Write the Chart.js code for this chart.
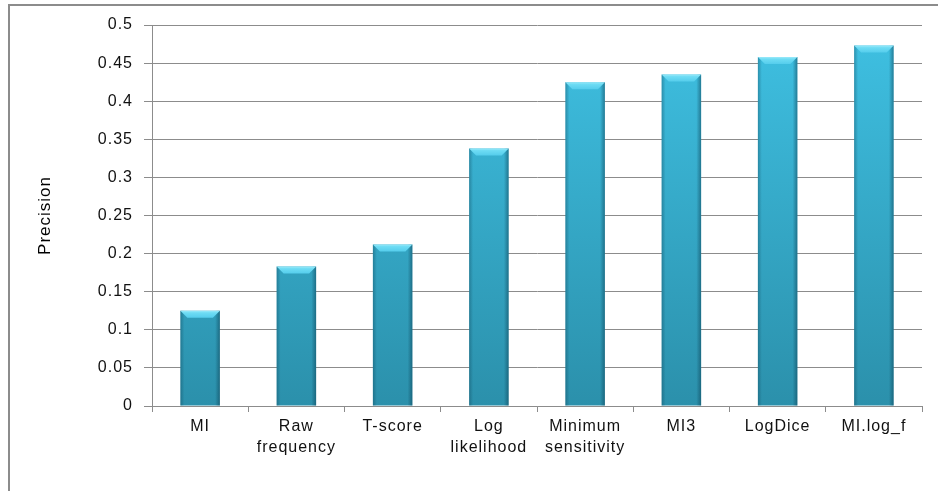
<!DOCTYPE html>
<html>
<head>
<meta charset="utf-8">
<script src="https://cdn.jsdelivr.net/npm/chart.js@4.4.1/dist/chart.umd.min.js"></script>
<style>
  html, body { margin: 0; padding: 0; background: #fff; overflow: hidden; }
  #wrap { position: relative; width: 938px; height: 491px; }
  #frame { position: absolute; left: 8px; top: 4px; width: 950px; height: 510px;
           border: 2px solid #8c8c8c; box-sizing: border-box; pointer-events: none; }
</style>
</head>
<body>
<div id="wrap">
  <canvas id="chart" width="938" height="491"></canvas>
  <div id="frame"></div>
</div>
<script>
/* measures compared, precision of each */
const categories = ['MI', ['Raw', 'frequency'], 'T-score', ['Log', 'likelihood'],
                    ['Minimum', 'sensitivity'], 'MI3', 'LogDice', 'MI.log_f'];
const precision = [0.125, 0.183, 0.212, 0.338, 0.425, 0.435, 0.458, 0.473];
const yTickLabels = ['0', '0.05', '0.1', '0.15', '0.2', '0.25', '0.3', '0.35', '0.4', '0.45', '0.5'];

const FONT = 'Liberation Sans, Arial, sans-serif';

/* old Excel-style wide text */
const spacing = {
  id: 'spacing',
  beforeUpdate(chart) { chart.ctx.letterSpacing = '1px'; },
  beforeDraw(chart) { chart.ctx.letterSpacing = '1px'; }
};

/* vertical fill gradient for the bars */
function barFill(ctx) {
  const area = ctx.chart.chartArea;
  if (!area) return '#36a9c9';
  const g = ctx.chart.ctx.createLinearGradient(0, area.top, 0, area.bottom);
  g.addColorStop(0, '#3fc1e3');
  g.addColorStop(1, '#2b90ab');
  return g;
}

/* side shading + top bevel on each bar, placed from the bar elements */
const bevel = {
  id: 'bevel',
  afterDatasetsDraw(chart) {
    const c = chart.ctx;
    chart.getDatasetMeta(0).data.forEach(bar => {
      const p = bar.getProps(['x', 'y', 'base', 'width'], true);
      const l = p.x - p.width / 2, r = p.x + p.width / 2;
      c.save();
      const h = c.createLinearGradient(l, 0, r, 0);
      h.addColorStop(0, 'rgba(10,60,80,0.35)');
      h.addColorStop(0.1, 'rgba(10,60,80,0)');
      h.addColorStop(0.88, 'rgba(10,60,80,0)');
      h.addColorStop(1, 'rgba(10,60,80,0.5)');
      c.fillStyle = h;
      c.fillRect(l, p.y, p.width, p.base - p.y);
      // top cap
      const d = 7;
      c.beginPath();
      c.moveTo(l, p.y);
      c.lineTo(r, p.y);
      c.lineTo(r - d, p.y + d);
      c.lineTo(l + d, p.y + d);
      c.closePath();
      const v = c.createLinearGradient(0, p.y, 0, p.y + d);
      v.addColorStop(0, '#9ceafa');
      v.addColorStop(0.3, '#6edcf4');
      v.addColorStop(1, '#55cdec');
      c.fillStyle = v;
      c.fill();
      c.restore();
    });
  }
};

new Chart(document.getElementById('chart'), {
  type: 'bar',
  data: {
    labels: categories,
    datasets: [{
      label: 'Precision',
      data: precision,
      backgroundColor: barFill,
      borderWidth: 0,
      categoryPercentage: 1,
      barPercentage: 0.41
    }]
  },
  options: {
    responsive: false,
    animation: false,
    devicePixelRatio: 1,
    layout: { padding: { top: 25, right: 16, bottom: 0, left: 0 } },
    plugins: { legend: { display: false }, tooltip: { enabled: false } },
    scales: {
      x: {
        afterFit(scale) { scale.height = 85; },
        grid: { display: true, drawOnChartArea: false, drawTicks: true, tickLength: 6, color: '#8c8c8c', offset: true },
        border: { display: true, color: '#8c8c8c' },
        ticks: { color: '#111', font: { family: FONT, size: 16, lineHeight: 1.3 }, padding: 4, maxRotation: 0, autoSkip: false }
      },
      y: {
        min: 0,
        max: 0.5,
        afterFit(scale) { scale.width = 152; },
        grid: { color: '#8c8c8c', tickLength: 8 },
        border: { display: true, color: '#8c8c8c' },
        ticks: {
          stepSize: 0.05,
          padding: 11,
          color: '#111',
          font: { family: FONT, size: 16 },
          callback: (v, i) => yTickLabels[i]
        },
        title: {
          display: true,
          text: 'Precision',
          color: '#000',
          font: { family: FONT, size: 17 },
          padding: { top: 35, bottom: 0 }
        }
      }
    }
  },
  plugins: [spacing, bevel]
});
</script>
</body>
</html>
